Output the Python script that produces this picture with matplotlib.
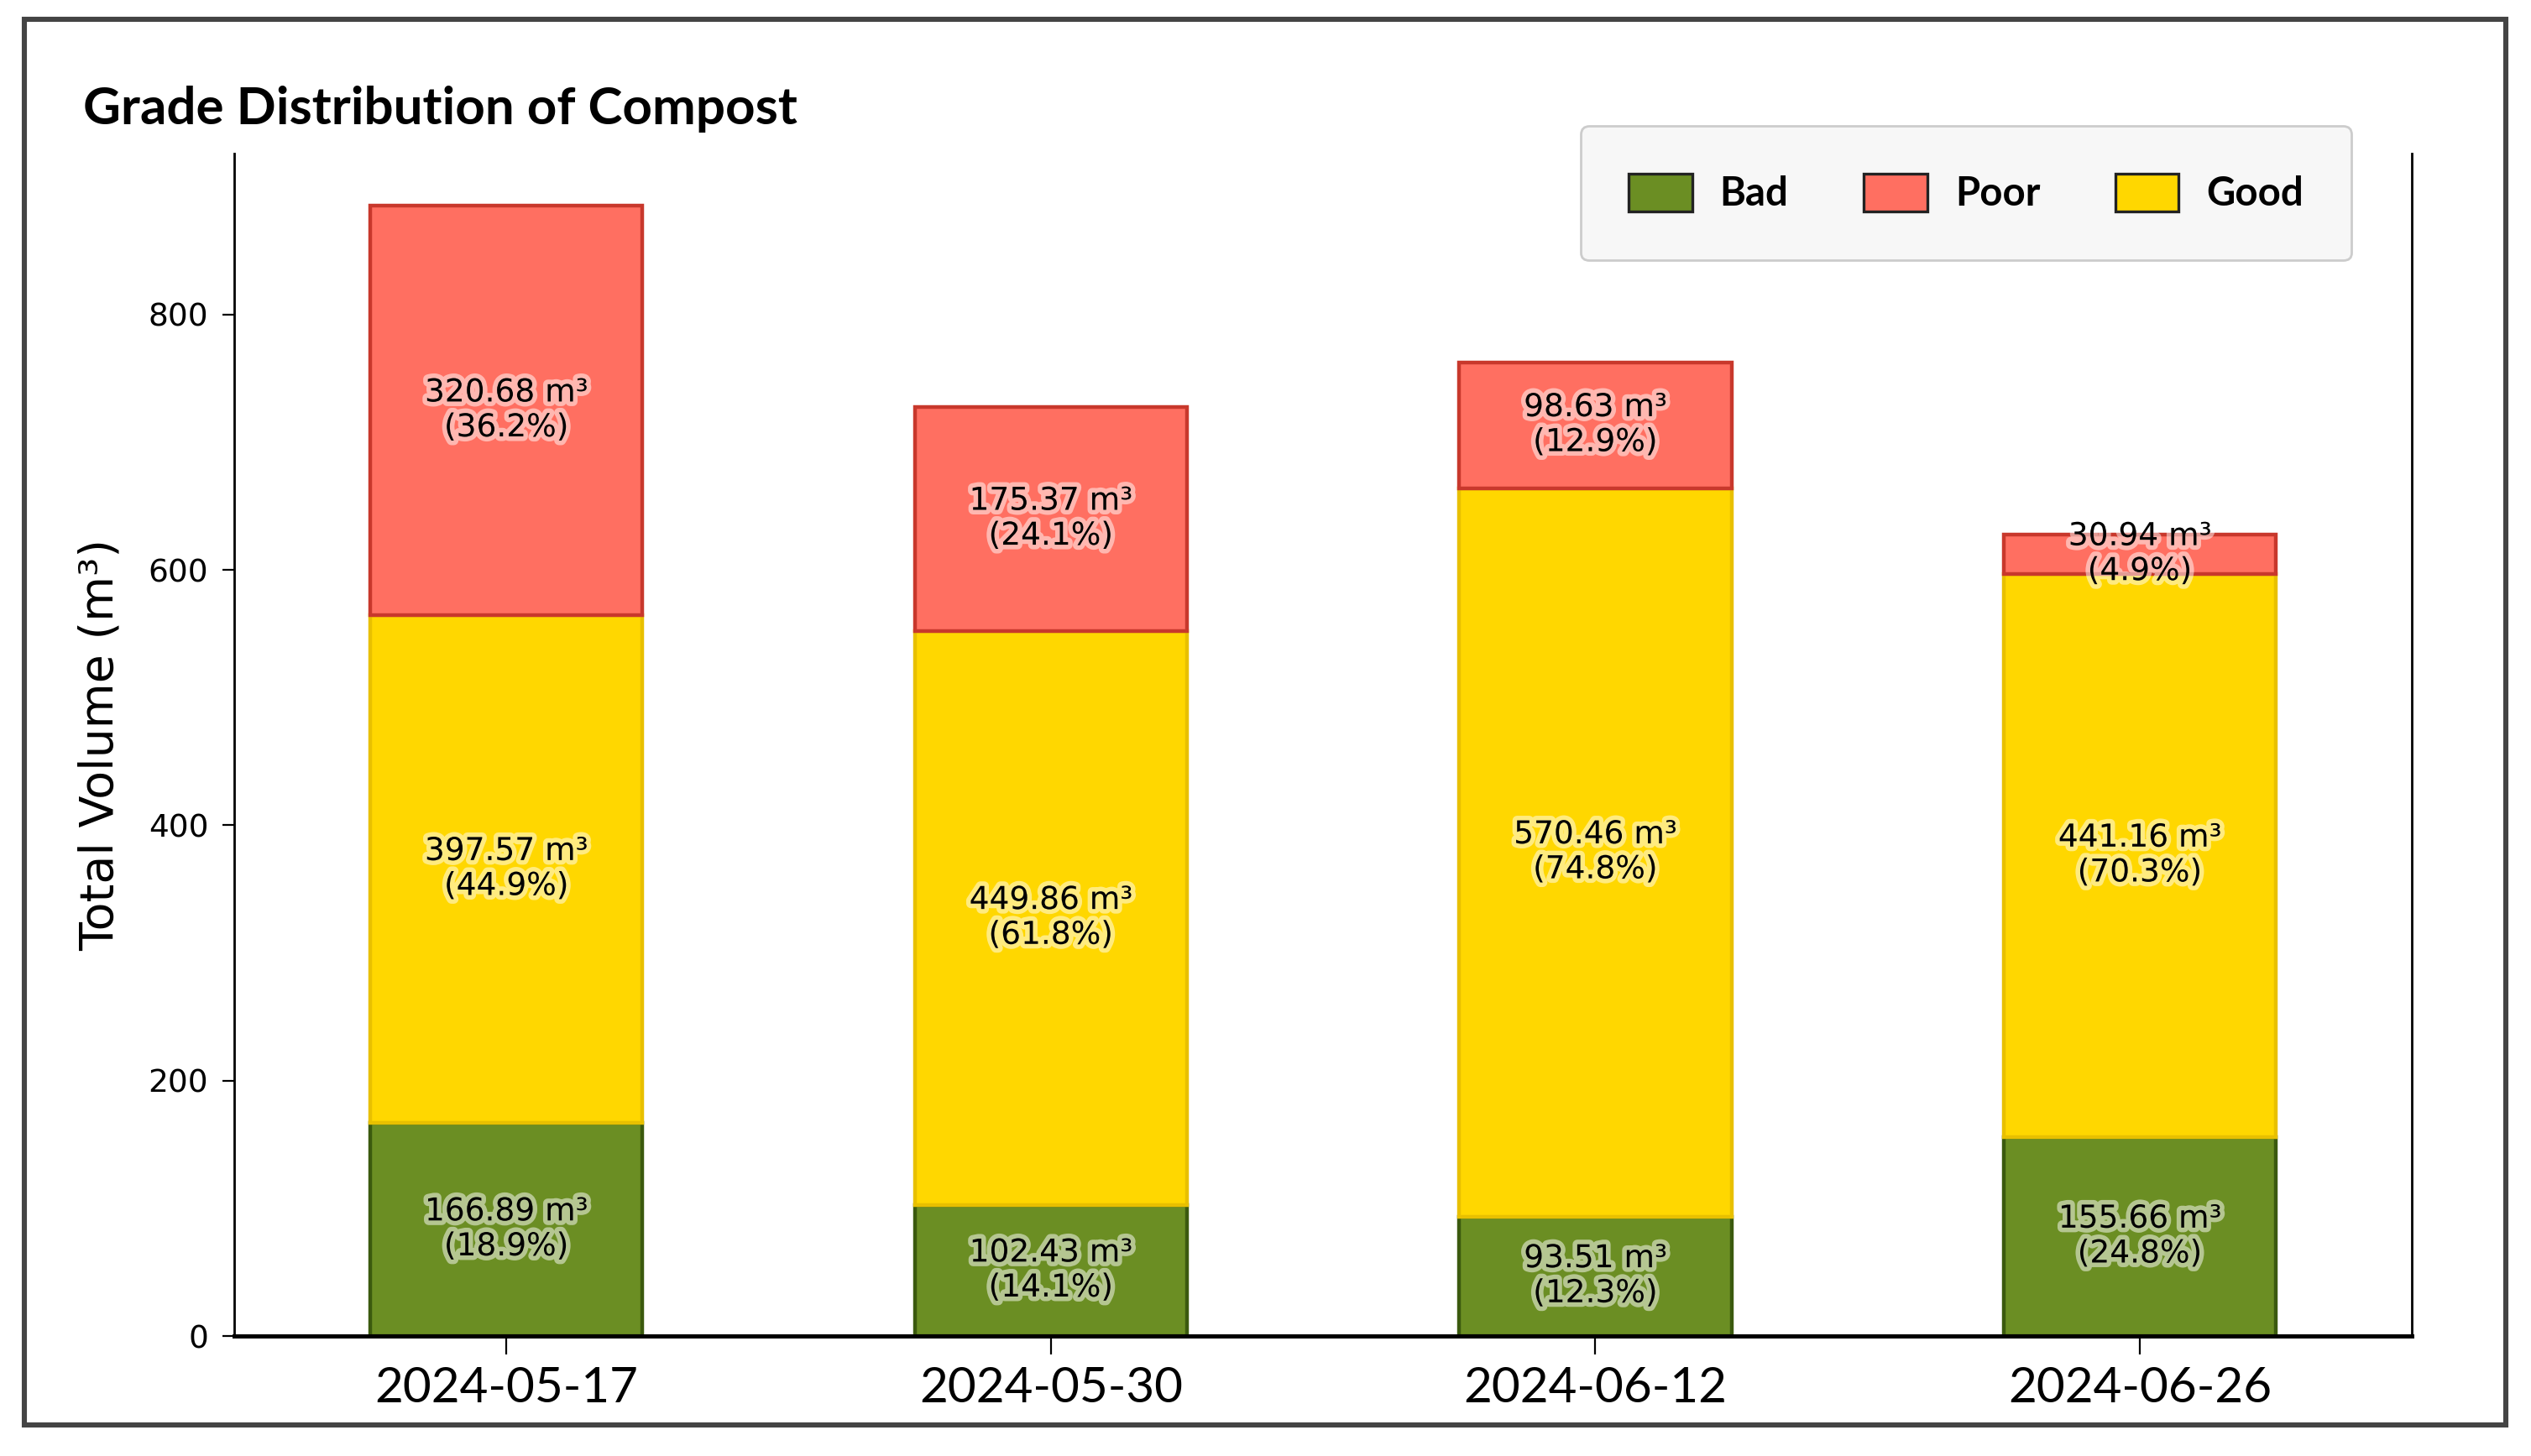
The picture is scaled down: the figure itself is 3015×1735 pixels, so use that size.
import matplotlib
matplotlib.use("Agg")
import matplotlib.pyplot as plt
import matplotlib.patheffects as pe
from matplotlib.patches import Rectangle, Patch
import numpy as np

dates = ["2024-05-17", "2024-05-30", "2024-06-12", "2024-06-26"]
bad = [166.89, 102.43, 93.51, 155.66]
good = [397.57, 449.86, 570.46, 441.16]
poor = [320.68, 175.37, 98.63, 30.94]

colors = {"Bad": "#6B8E23", "Good": "#FFD700", "Poor": "#FF6F61"}
edges = {"Bad": "#3B5A0E", "Good": "#E8C000", "Poor": "#C8382C"}

fig = plt.figure(figsize=(15.075, 8.675), dpi=200)
ax = fig.add_axes([0.0925, 0.0824, 0.8605, 0.8121])

x = np.arange(len(dates))
totals = np.array(bad) + np.array(good) + np.array(poor)
bottom = np.zeros(len(dates))
for name, vals in [("Bad", bad), ("Good", good), ("Poor", poor)]:
    vals = np.array(vals)
    ax.bar(x, vals, width=0.5, bottom=bottom, color=colors[name],
           edgecolor=edges[name], linewidth=1.6, label=name)
    for i in range(len(dates)):
        pct = vals[i] / totals[i] * 100
        ax.text(x[i], bottom[i] + vals[i] / 2, f"{vals[i]:.2f} m³\n({pct:.1f}%)",
                ha="center", va="center", fontsize=13.5, color="black",
                family="DejaVu Sans", linespacing=1.2,
                path_effects=[pe.withStroke(linewidth=4, foreground="white", alpha=0.5)])
    bottom += vals

ax.set_xlim(-0.5, 3.5)
ax.set_ylim(0, 926)
ax.set_xticks(x)
ax.set_xticklabels(dates, fontsize=21, family="Lato")
ax.set_yticks([0, 200, 400, 600, 800])
ax.tick_params(axis="y", labelsize=13.5, length=5, pad=6)
ax.tick_params(axis="x", length=8, pad=5)
ax.set_ylabel("Total Volume (m³)", fontsize=20, family="DejaVu Sans")
ax.yaxis.set_label_coords(-0.051, 0.5)

ax.spines["top"].set_visible(False)
ax.spines["bottom"].set_linewidth(1.8)
ax.spines["left"].set_linewidth(1.0)
ax.spines["right"].set_linewidth(1.0)

fig.text(0.033, 0.925, "Grade Distribution of Compost", fontsize=22.3,
         fontweight="bold", family="Lato", va="center", ha="left")

handles = [Patch(facecolor=colors[n], edgecolor="#222222", linewidth=1.2) for n in ["Bad", "Poor", "Good"]]
leg = fig.legend(handles, ["Bad", "Poor", "Good"], loc="upper right",
                 bbox_to_anchor=(0.929, 0.9135), ncol=3, fancybox=True,
                 prop={"family": "Lato", "weight": "bold", "size": 17},
                 handlelength=1.6, handleheight=1.1, columnspacing=1.9,
                 handletextpad=0.7, borderpad=1.2, borderaxespad=0)
leg.get_frame().set_facecolor("#F7F7F7")
leg.get_frame().set_edgecolor("#CCCCCC")
leg.get_frame().set_alpha(1)

fig.patches.append(Rectangle((0.0096, 0.0213), 0.9804, 0.9657, transform=fig.transFigure,
                             fill=False, edgecolor="#444444", linewidth=2.2))

plt.savefig("out.png")
plt.close()
